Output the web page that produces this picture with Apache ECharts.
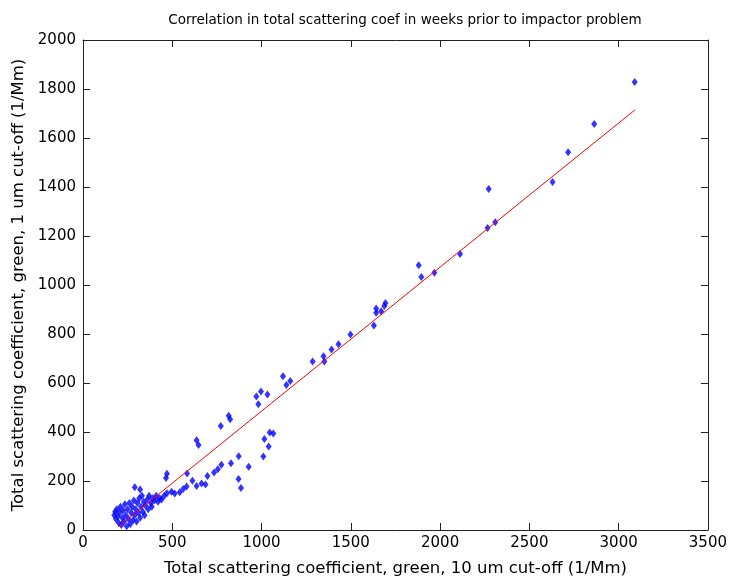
<!DOCTYPE html>
<html>
<head>
<meta charset="utf-8">
<script src="https://cdn.jsdelivr.net/npm/echarts@6/dist/echarts.min.js"></script>
<style>html,body{margin:0;padding:0;background:#fff;}#c{width:730px;height:582px;}</style>
</head>
<body>
<div id="c"></div>
<script>
// Scatter data: total scattering coefficient (10 um cut-off) vs (1 um cut-off)
const xVals = [175,180,185,190,195,200,205,210,215,220,225,230,235,240,245,250,255,260,265,270,275,280,285,290,295,300,305,310,315,320,325,330,335,340,345,350,360,365,370,380,385,390,400,410,420,430,440,455,470,290,320,465,470,
  496,514,542,561,580,583,613,636,664,686,697,734,755,775,829,872,871,885,928,
  636,647,772,816,824,971,997,1033,982,1046,1066,1016,1040,1010,
  1120,1139,1161,
  1286,1347,1352,1392,1431,1498,1629,1642,1642,1670,1694,1688,
  1880,1895,1968,2112,2266,2309,2272,2630,2717,2863,3090];
const yVals = [60,75,45,85,55,30,70,95,20,50,80,35,105,60,15,85,45,110,25,70,95,40,120,60,85,35,110,70,130,50,95,140,75,115,60,100,125,85,140,110,95,130,120,140,115,130,125,140,150,175,165,212,230,
  156,149,154,167,178,231,201,180,190,186,220,235,248,266,272,301,208,171,258,
  366,347,424,466,452,545,565,553,513,398,394,371,341,300,
  628,592,608,
  688,709,688,737,758,798,835,904,887,893,927,914,
  1081,1033,1050,1127,1233,1256,1392,1420,1542,1657,1829];
// Linear fit line endpoints
const fitX = [197, 3092];
const fitY = [13, 1715];
const xTicks = [0,500,1000,1500,2000,2500,3000,3500];
const yTicks = [0,200,400,600,800,1000,1200,1400,1600,1800,2000];

const pts = xVals.map((x,i)=>[x,yVals[i]]);
const fitPts = fitX.map((x,i)=>[x,fitY[i]]);
const font = 'DejaVu Sans';
const axisLine = {show:true, onZero:false, lineStyle:{color:'#222', width:1}};
const axisTick = {show:true, inside:true, length:7, lineStyle:{color:'#222', width:1}};
const fmt = v => String(v);

const chart = echarts.init(document.getElementById('c'), null, {renderer:'canvas'});
chart.setOption({
  animation:false,
  backgroundColor:'#fff',
  title:{
    text:'Correlation in total scattering coef in weeks prior to impactor problem',
    left:400, top:8, textAlign:'center',
    textStyle:{fontFamily:font, fontSize:13.5, fontWeight:'normal', color:'#000'}
  },
  grid:{left:83, right:21, top:40, bottom:51, show:false},
  xAxis:[{
    type:'value', min:xTicks[0], max:xTicks[xTicks.length-1], interval:500,
    position:'bottom',
    name:'Total scattering coefficient, green, 10 um cut-off (1/Mm)',
    nameLocation:'middle', nameGap:30,
    nameTextStyle:{fontFamily:font, fontSize:16.5, color:'#000'},
    axisLine:axisLine, axisTick:axisTick,
    axisLabel:{fontFamily:font, fontSize:15, color:'#000', margin:6, formatter:fmt},
    splitLine:{show:false}
  },{
    type:'value', min:xTicks[0], max:xTicks[xTicks.length-1], interval:500,
    position:'top', axisLine:axisLine, axisTick:axisTick,
    axisLabel:{show:false}, splitLine:{show:false}
  }],
  yAxis:[{
    type:'value', min:yTicks[0], max:yTicks[yTicks.length-1], interval:200,
    position:'left',
    name:'Total scattering coefficient, green, 1 um cut-off (1/Mm)',
    nameLocation:'middle', nameGap:54,
    nameTextStyle:{fontFamily:font, fontSize:16.5, color:'#000'},
    axisLine:axisLine, axisTick:axisTick,
    axisLabel:{fontFamily:font, fontSize:15, color:'#000', margin:7, formatter:fmt},
    splitLine:{show:false}
  },{
    type:'value', min:yTicks[0], max:yTicks[yTicks.length-1], interval:200,
    position:'right', axisLine:axisLine, axisTick:axisTick,
    axisLabel:{show:false}, splitLine:{show:false}
  }],
  series:[{
    type:'scatter', data:pts, symbol:'diamond', symbolSize:[6,8],
    itemStyle:{color:'#0000ff'}, z:2
  },{
    type:'line', data:fitPts, symbol:'none',
    lineStyle:{color:'#ff0000', width:1}, z:3
  }]
});
</script>
</body>
</html>
